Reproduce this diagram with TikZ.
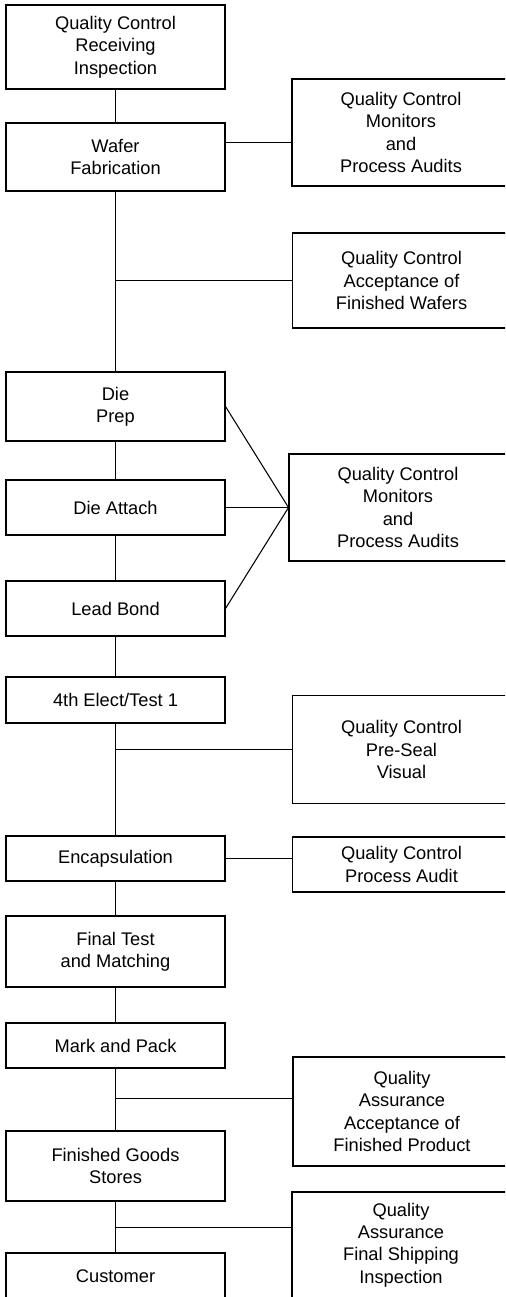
\documentclass[tikz,border=0pt]{standalone}
\usepackage{fontspec}
\setmainfont{Liberation Sans}
\usepackage{tikz}

\tikzset{
  lbox/.style={draw=black, line width=0.6pt, minimum width=4.38cm, minimum height=#1*0.02cm,
    align=center, inner sep=0pt, font=\fontsize{10.4}{12.7}\selectfont},
  rbox/.style={draw=black, line width=0.6pt, minimum width=4.36cm, minimum height=#1*0.02cm,
    align=center, inner sep=0pt, font=\fontsize{10.4}{12.7}\selectfont},
  wire/.style={draw=black, line width=0.6pt}
}

\begin{document}
\begin{tikzpicture}[x=0.02cm,y=-0.02cm]
\useasboundingbox (0,0) rectangle (505,1297);
\clip (0,0) rectangle (505,1297);

% process steps:
\node[lbox=84] (recv)   at (115.5,47)     {Quality Control\\Receiving\\Inspection};
\node[lbox=68] (wafer)  at (115.5,157)    {Wafer\\Fabrication};
\node[lbox=69] (prep)   at (115.5,406.5)  {Die\\Prep};
\node[lbox=55] (attach) at (115.5,507.5)  {Die Attach};
\node[lbox=55] (bond)   at (115.5,608.5)  {Lead Bond};
\node[lbox=46] (test)   at (115.5,700)    {4th Elect/Test 1};
\node[lbox=45] (encap)  at (115.5,858.5)  {Encapsulation};
\node[lbox=71] (final)  at (115.5,951.5)  {Final Test\\and Matching};
\node[lbox=45] (mark)   at (115.5,1045.5) {Mark and Pack};
\node[lbox=70] (stores) at (115.5,1166)   {Finished Goods\\Stores};
\node[lbox=47] (cust)   at (115.5,1276.5) {Customer};

% checks:
\node[rbox=107] (qcaudit)  at (401,132.5)   {Quality Control\\Monitors\\and\\Process Audits};
\node[rbox=95]  (qcwafer)  at (401.5,280.5) {Quality Control\\Acceptance of\\Finished Wafers};
\node[rbox=107] (qcassy)   at (398,507.5)   {Quality Control\\Monitors\\and\\Process Audits};
\node[rbox=108] (qcseal)   at (401.5,749.5) {Quality Control\\Pre-Seal\\Visual};
\node[rbox=55]  (qcencap)  at (401.5,864.5) {Quality Control\\Process Audit};
\node[rbox=109] (qaprod)   at (402,1111.5)  {Quality\\Assurance\\Acceptance of\\Finished Product};
\node[rbox=106] (qaship)   at (401,1245)    {Quality\\Assurance\\Final Shipping\\Inspection};

\coordinate (j1) at (292,142.5);
\coordinate (j6) at (115.5,1098.5);
\coordinate (j7) at (115.5,1227.5);

% flow line:
\draw[wire] (recv.south) -- (wafer.north);
\draw[wire] (wafer.south) -- (prep.north);
\draw[wire] (prep.south) -- (attach.north);
\draw[wire] (attach.south) -- (bond.north);
\draw[wire] (bond.south) -- (test.north);
\draw[wire] (test.south) -- (encap.north);
\draw[wire] (encap.south) -- (final.north);
\draw[wire] (final.south) -- (mark.north);
\draw[wire] (mark.south) -- (stores.north);
\draw[wire] (stores.south) -- (cust.north);

% branches:
\draw[wire] (wafer.east |- j1) -- (j1);
\draw[wire] (qcwafer.west) -- (qcwafer.west -| wafer.south);
\draw[wire] (prep.east) -- (qcassy.west);
\draw[wire] (attach.east) -- (qcassy.west);
\draw[wire] (bond.east) -- (qcassy.west);
\draw[wire] (qcseal.west) -- (qcseal.west -| test.south);
\draw[wire] (encap.east) -- (encap.east -| qcencap.west);
\draw[wire] (j6) -- (j6 -| qaprod.west);
\draw[wire] (j7) -- (j7 -| qaship.west);

\end{tikzpicture}
\end{document}
